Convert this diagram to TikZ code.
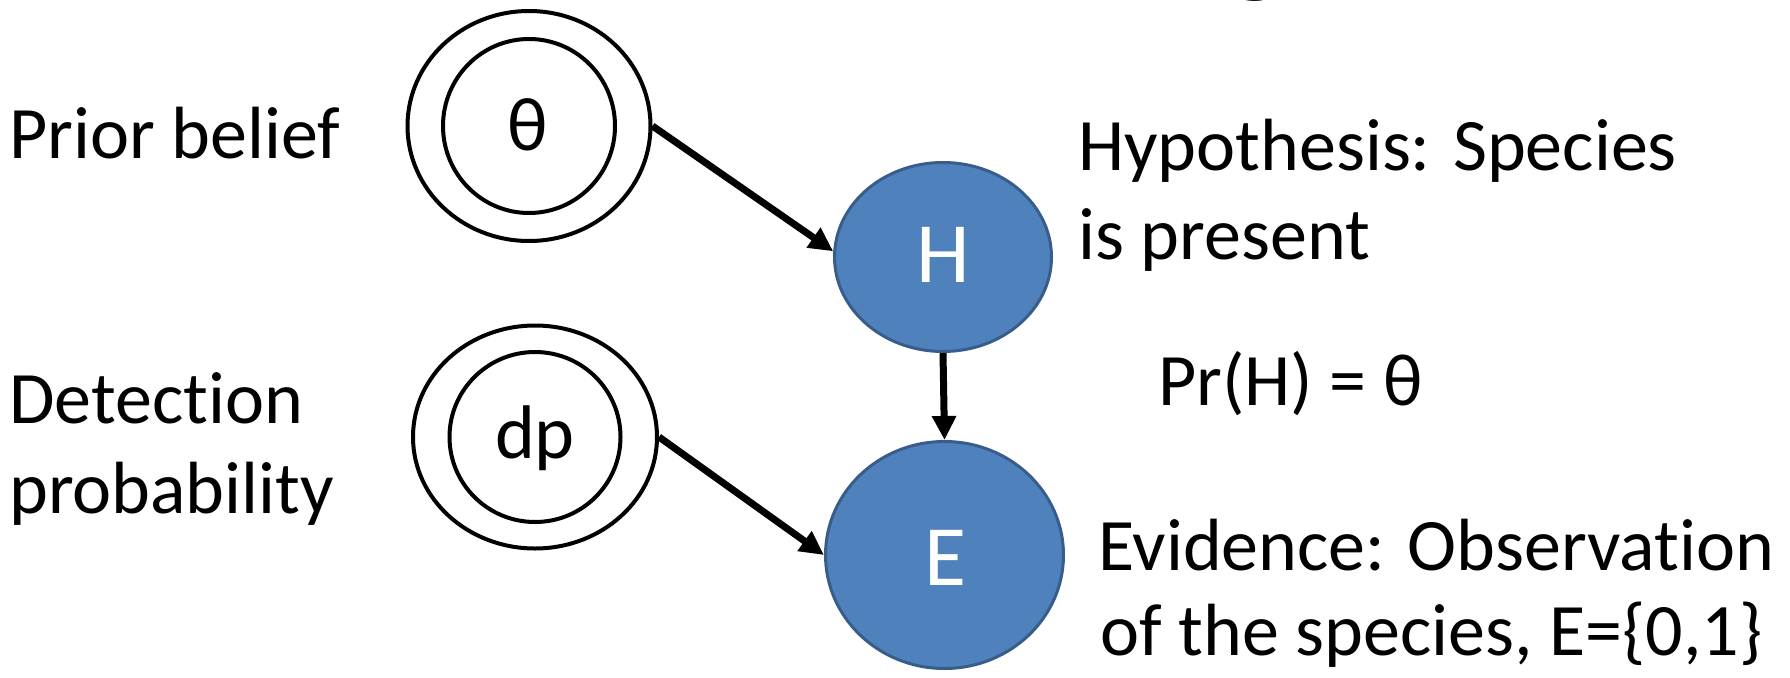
\documentclass[tikz,border=0pt]{standalone}
\usepackage{fontspec}
\setmainfont{Carlito}[Ligatures=NoCommon]
\usetikzlibrary{shapes.geometric,arrows.meta}
\definecolor{nodefill}{RGB}{79,129,189}
\definecolor{nodeline}{RGB}{56,93,138}
\tikzset{
  ring/.style={ellipse, draw=black, line width=4pt, inner sep=0pt, fill=none},
  evnode/.style={ellipse, draw=nodeline, fill=nodefill, line width=3pt, inner sep=0pt,
    text=white, font=\fontsize{86}{100}\selectfont},
  lbl/.style={anchor=base west, inner sep=0pt, font=\fontsize{74}{89}\selectfont},
  sym/.style={inner sep=0pt, font=\fontsize{76}{90}\selectfont},
  link/.style={line width=7pt, -{Triangle[length=24pt,width=23pt]}},
}
\begin{document}
\begin{tikzpicture}[x=1pt,y=-1pt]
\useasboundingbox (0,0) rectangle (1790,677);

% cut-off title
\node[anchor=base west, inner sep=0pt, font=\fontsize{116}{130}\selectfont] (title) at (1228,-18) {g};

% prior / detection parameter nodes
\node[ring, minimum width=243pt, minimum height=230pt] (thetaout) at (529,126) {};
\node[ring, minimum width=172pt, minimum height=174pt] (thetain) at (529,126) {};
\node[sym] (thetalbl) at (528,125) {θ};

\node[ring, minimum width=244pt, minimum height=223pt] (dpout) at (535,437) {};
\node[ring, minimum width=171pt, minimum height=170pt] (dpin) at (535,437) {};
\node[sym, anchor=base] (dplbl) at (535,458) {dp};

% H and E
\node[evnode, minimum width=217pt, minimum height=189pt] (H) at (943,257) {};
\node[inner sep=0pt, anchor=base, text=white, font=\fontsize{86}{100}\selectfont] (Hlbl) at (943,282) {H};
\node[evnode, minimum width=238pt, minimum height=227pt] (E) at (944.5,555) {};
\node[inner sep=0pt, anchor=base, text=white, font=\fontsize{86}{100}\selectfont] (Elbl) at (945,585) {E};

% connectors
\draw[link] (thetaout.east) -- (H.177);
\draw[link] (H.south) -- (E.north);
\draw[link] (dpout.east) -- (E.west);

% labels
\node[lbl] (prior) at (9,158) {Prior belief};
\node[lbl] (det1) at (9,423) {Detection};
\node[lbl] (det2) at (9,513) {probability};

\node[lbl] (hyp1) at (1078,170) {Hypothesis: Species};
\node[lbl] (hyp2) at (1078,259) {is present};
\node[lbl] (prh) at (1158,405) {Pr(H) = θ};
\node[lbl] (ev1) at (1098,570) {Evidence: Observation};
\node[lbl] (ev2) at (1100,655) {of the species, E=\{0,1\}};
\end{tikzpicture}
\end{document}
